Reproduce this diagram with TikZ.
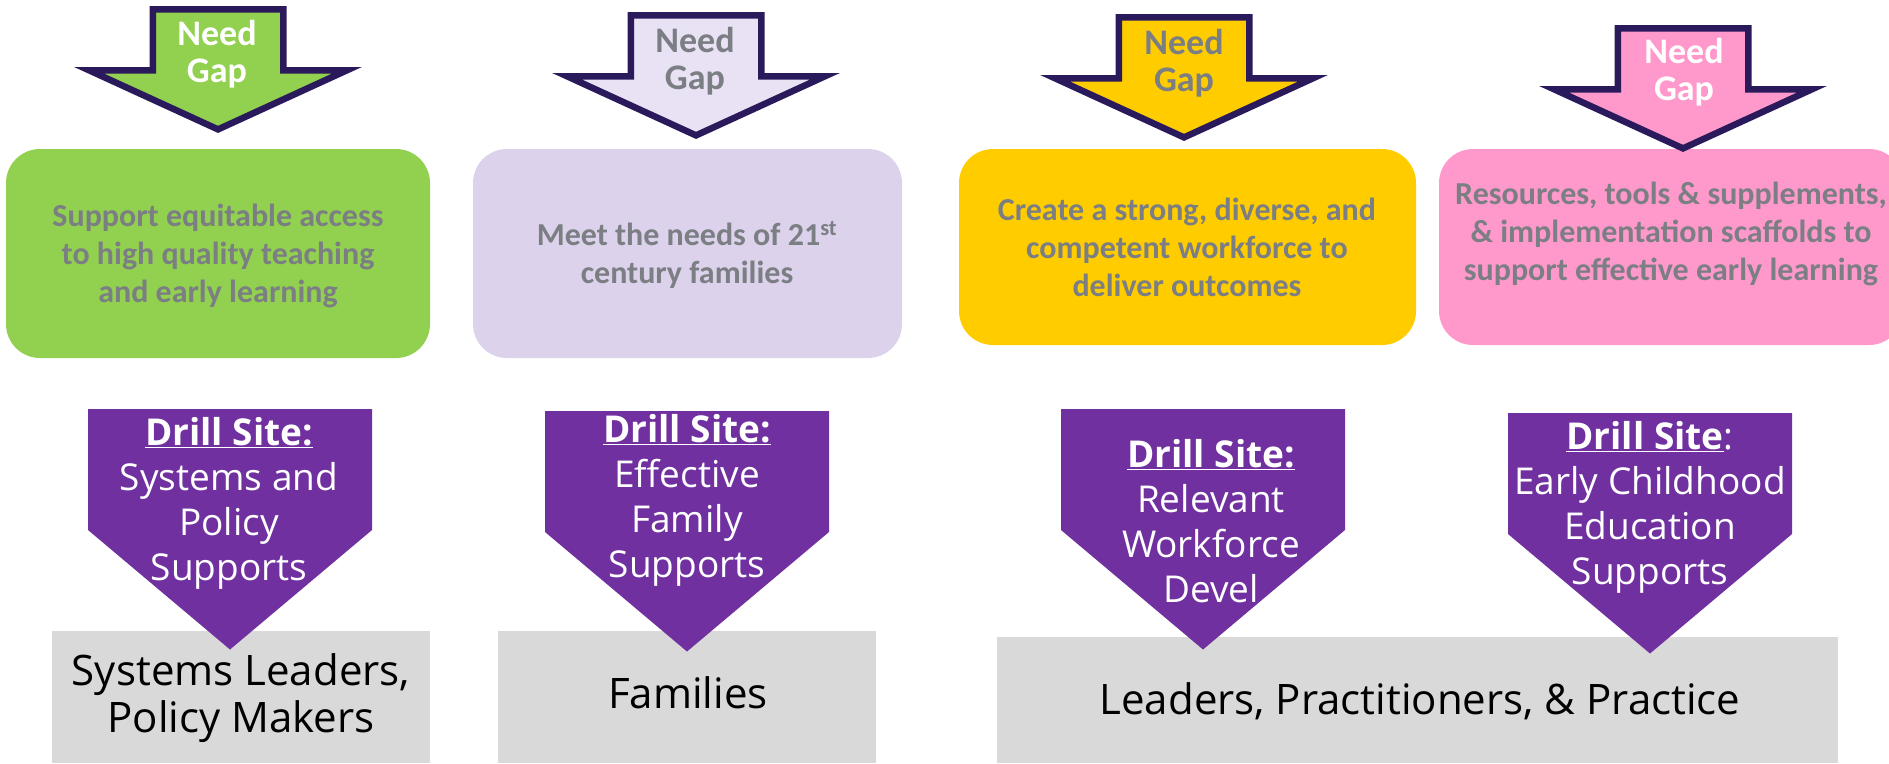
\documentclass[tikz,border=0pt]{standalone}
\usepackage{fontspec}
\newfontfamily\carlito{Carlito}
\newfontfamily\opensans{Open Sans}
\definecolor{cgreen}{HTML}{92D050}
\definecolor{clavbox}{HTML}{DCD2EB}
\definecolor{clavarrow}{HTML}{E8E2F4}
\definecolor{cgold}{HTML}{FFCC00}
\definecolor{cpink}{HTML}{FF99CC}
\definecolor{cpurple}{HTML}{7030A0}
\definecolor{cgraybox}{HTML}{D9D9D9}
\definecolor{coutline}{HTML}{2A1A5C}
\definecolor{ctxtgray}{HTML}{7B7E83}
\newcommand\needarrow[3]{%
  \filldraw[fill=#3, draw=coutline, line width=6.5, miter limit=10]
    ({#1-65.25},{#2+3.25}) -- ({#1+65.25},{#2+3.25}) -- ({#1+65.25},{#2+64.25})
    -- ({#1+129},{#2+64.25}) -- (#1,{#2+123.4}) -- ({#1-129},{#2+64.25})
    -- ({#1-65.25},{#2+64.25}) -- cycle;}
\newcommand\drillpent[2]{%
  \fill[cpurple] ({#1-142},#2) -- ({#1+142},#2) -- ({#1+142},{#2+121})
    -- (#1,{#2+240.5}) -- ({#1-142},{#2+121}) -- cycle;}
\newcommand\drillhead{\underline{\textbf{Drill Site:}}}
\begin{document}
\begin{tikzpicture}[x=1pt,y=-1pt,
  topbox/.style={rectangle, rounded corners=34, inner sep=0, draw=none},
  graybox/.style={rectangle, inner sep=0, draw=none, fill=cgraybox},
  gaptxt/.style={font=\carlito\bfseries\fontsize{36}{36.5}\selectfont, align=center, inner sep=0, anchor=base},
  boxtxt/.style={font=\carlito\bfseries\fontsize{32}{38}\selectfont, text=ctxtgray, align=center, inner sep=0, anchor=base},
  drilltxt/.style={font=\opensans\fontsize{37}{45}\selectfont, text=white, align=center, inner sep=0, anchor=base},
  grtxt/.style={font=\opensans\fontsize{42}{47}\selectfont, text=black, align=center, inner sep=0, anchor=base}]
\useasboundingbox (0,0) rectangle (1889,763);
% top rounded boxes
\node[topbox, fill=cgreen, minimum width=424, minimum height=209] (box1) at (218,253.5) {};
\node[topbox, fill=clavbox, minimum width=429, minimum height=209] (box2) at (687.5,253.5) {};
\node[topbox, fill=cgold, minimum width=457, minimum height=196] (box3) at (1187.5,247) {};
\node[topbox, fill=cpink, minimum width=464, minimum height=196] (box4) at (1671,247) {};
% need gap arrows
\needarrow{218}{6}{cgreen}
\needarrow{696}{12}{clavarrow}
\needarrow{1184}{14}{cgold}
\needarrow{1683}{25}{cpink}
% (anchor=base of a multi-line node is the baseline of its last line)
\node[gaptxt, text=white] (gap1) at (217,82) {Need\\Gap};
\node[gaptxt, text=ctxtgray] (gap2) at (695,89) {Need\\Gap};
\node[gaptxt, text=ctxtgray] (gap3) at (1184,91) {Need\\Gap};
\node[gaptxt, text=white] (gap4) at (1684,100) {Need\\Gap};
\node[boxtxt] (t1) at (218,302) {Support equitable access\\to high quality teaching\\and early learning};
\node[boxtxt] (t2) at (687,283) {Meet the needs of 21\textsuperscript{st}\\century families};
\node[boxtxt] (t3) at (1187,296) {Create a strong, diverse, and\\competent workforce to\\deliver outcomes};
\node[boxtxt] (t4) at (1671,280) {Resources, tools \& supplements,\\\& implementation scaffolds to\\support effective early learning};
% gray boxes
\node[graybox, minimum width=378, minimum height=132] (g1) at (241,697) {};
\node[graybox, minimum width=378, minimum height=132] (g2) at (687,697) {};
\node[graybox, minimum width=841, minimum height=126] (g3) at (1417.5,700) {};
% drill pentagons
\drillpent{230}{409}
\drillpent{687}{411}
\drillpent{1203}{409}
\drillpent{1650}{413}
\node[drilltxt] (d1) at (229,580) {\drillhead\\Systems and\\Policy\\Supports};
\node[drilltxt] (d2) at (687,577) {\drillhead\\Effective\\Family\\Supports};
\node[drilltxt] (d3) at (1211,602) {\drillhead\\Relevant\\Workforce\\Devel};
\node[drilltxt] (d4) at (1650,584) {\underline{\textbf{Drill Site}}:\\Early Childhood\\Education\\Supports};
% gray labels
\node[grtxt] (l1) at (241,732) {Systems Leaders,\\Policy Makers};
\node[grtxt] (l2) at (688,708) {Families};
\node[grtxt] (l3) at (1420,714) {Leaders, Practitioners, \& Practice};
\end{tikzpicture}
\end{document}
